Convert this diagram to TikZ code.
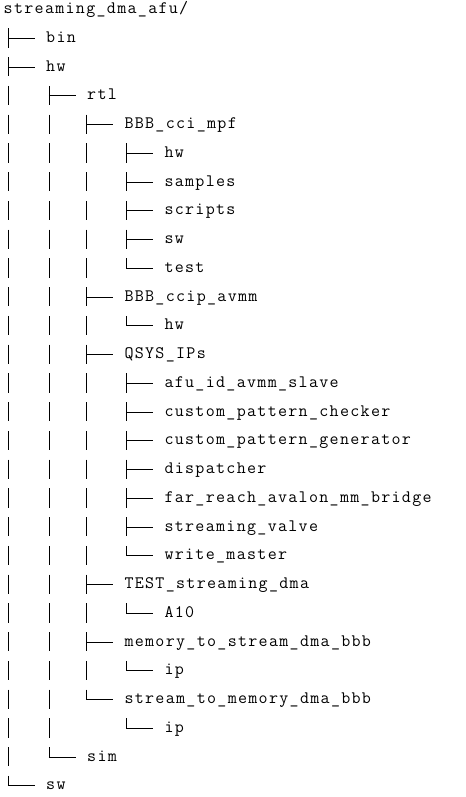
\documentclass[tikz,border=0pt]{standalone}
\usepackage{fontspec}
\newfontfamily\treefont[LetterSpace=7.5]{Latin Modern Mono}
\usepackage{tikz}
\usetikzlibrary{positioning}

\begin{document}
\begin{tikzpicture}[
    x=1pt, y=-28.75pt,
    entry/.style={anchor=base west, inner sep=0pt, text=black, font=\treefont\fontsize{17.5}{20}\selectfont},
    trunk/.style={draw, line width=1.2pt, dash pattern=on 19.4pt off 9.35pt},
    twig/.style={draw, line width=1pt}
]
    \useasboundingbox (0,-0.4713) rectangle (465,27.25);

    % Root
    \node [entry] (root) at (3.5,0) {streaming\_dma\_afu/};

    % Level 1
    \node [entry] (bin) at (46,1) {bin};
    \node [entry] (hw) at (46,2) {hw};
    \node [entry] (sw) at (46,27) {sw};

    % Level 2
    \node [entry] (rtl) at (87,3) {rtl};
    \node [entry] (sim) at (87,26) {sim};

    % Level 3
    \node [entry] (cci_mpf) at (124.3,4) {BBB\_cci\_mpf};
    \node [entry] (ccip_avmm) at (124.3,10) {BBB\_ccip\_avmm};
    \node [entry] (qsys) at (124.3,12) {QSYS\_IPs};
    \node [entry] (test_dma) at (124.3,20) {TEST\_streaming\_dma};
    \node [entry] (mem_to_str) at (124.3,22) {memory\_to\_stream\_dma\_bbb};
    \node [entry] (str_to_mem) at (124.3,24) {stream\_to\_memory\_dma\_bbb};

    % Level 4
    \node [entry] (mpf_hw) at (164.3,5) {hw};
    \node [entry] (mpf_samples) at (164.3,6) {samples};
    \node [entry] (mpf_scripts) at (164.3,7) {scripts};
    \node [entry] (mpf_sw) at (164.3,8) {sw};
    \node [entry] (mpf_test) at (164.3,9) {test};
    \node [entry] (avmm_hw) at (164.3,11) {hw};
    \node [entry] (afu_id) at (164.3,13) {afu\_id\_avmm\_slave};
    \node [entry] (pat_checker) at (164.3,14) {custom\_pattern\_checker};
    \node [entry] (pat_generator) at (164.3,15) {custom\_pattern\_generator};
    \node [entry] (dispatcher) at (164.3,16) {dispatcher};
    \node [entry] (far_reach) at (164.3,17) {far\_reach\_avalon\_mm\_bridge};
    \node [entry] (stream_valve) at (164.3,18) {streaming\_valve};
    \node [entry] (write_master) at (164.3,19) {write\_master};
    \node [entry] (a10) at (164.3,21) {A10};
    \node [entry] (mts_ip) at (164.3,23) {ip};
    \node [entry] (stm_ip) at (164.3,25) {ip};

    % Trunks: first child down to last child
    \foreach \first/\last in {bin/sw, rtl/sim, cci_mpf/str_to_mem, mpf_hw/mpf_test, avmm_hw/avmm_hw,
                              afu_id/write_master, a10/a10, mts_ip/mts_ip, stm_ip/stm_ip}
        \path [trunk] ([shift={(-37.5pt,14pt)}]\first.base west) -- ([shift={(-37.5pt,4pt)}]\last.base west);

    % Twigs into each entry
    \foreach \n in {bin, hw, sw, rtl, sim, cci_mpf, ccip_avmm, qsys, test_dma, mem_to_str, str_to_mem,
                    mpf_hw, mpf_samples, mpf_scripts, mpf_sw, mpf_test, avmm_hw, afu_id, pat_checker,
                    pat_generator, dispatcher, far_reach, stream_valve, write_master, a10, mts_ip, stm_ip}
        \path [twig] ([shift={(-38.1pt,4pt)}]\n.base west) -- ([shift={(-11pt,4pt)}]\n.base west);

\end{tikzpicture}
\end{document}
